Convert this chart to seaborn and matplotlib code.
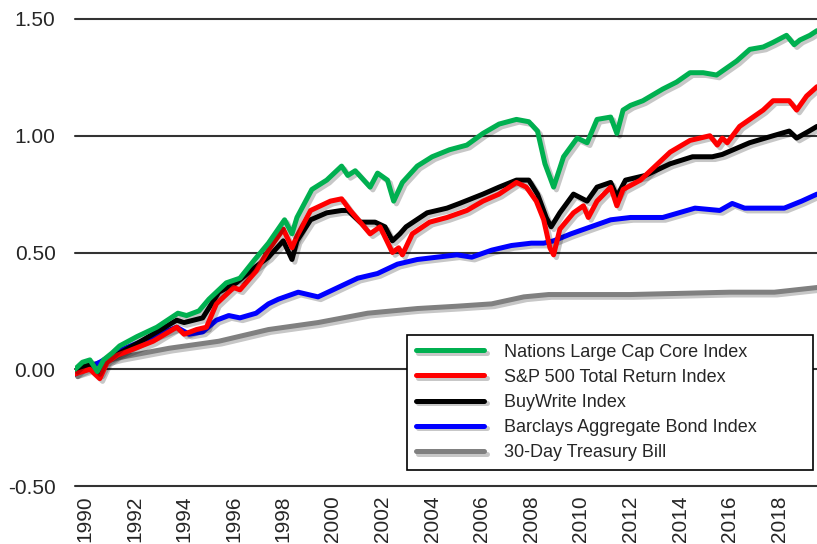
import matplotlib
matplotlib.use('Agg')
import matplotlib.pyplot as plt
import matplotlib.patheffects as pe
import seaborn as sns

# Series values (x = decimal year, y = cumulative return)
green_x = [1989.6, 1989.9, 1990.2, 1990.5, 1990.75, 1991.1, 1991.4, 1992.1, 1992.9, 1993.75,
           1994.1, 1994.6, 1995.0, 1995.7, 1996.25, 1996.85, 1997.4, 1998.05, 1998.35, 1998.55,
           1999.15, 1999.75, 2000.35, 2000.6, 2000.9, 2001.5, 2001.8, 2002.2, 2002.45, 2002.8,
           2003.4, 2004.0, 2004.7, 2005.4, 2006.05, 2006.7, 2007.4, 2007.9, 2008.25, 2008.55,
           2008.9, 2009.3, 2009.85, 2010.25, 2010.65, 2011.2, 2011.45, 2011.7, 2012.0, 2012.5,
           2013.3, 2013.86, 2014.4, 2014.93, 2015.47, 2015.74, 2016.28, 2016.81, 2017.35, 2017.75,
           2018.29, 2018.6, 2018.83, 2019.23, 2019.52]
green_y = [0.00, 0.03, 0.04, -0.01, 0.04, 0.07, 0.10, 0.14, 0.18, 0.24,
           0.23, 0.25, 0.30, 0.37, 0.39, 0.47, 0.54, 0.64, 0.58, 0.65,
           0.77, 0.81, 0.87, 0.83, 0.85, 0.78, 0.84, 0.81, 0.72, 0.80,
           0.87, 0.91, 0.94, 0.96, 1.01, 1.05, 1.07, 1.06, 1.02, 0.88,
           0.78, 0.91, 0.99, 0.97, 1.07, 1.08, 1.01, 1.11, 1.13, 1.15,
           1.20, 1.23, 1.27, 1.27, 1.26, 1.28, 1.32, 1.37, 1.38, 1.40,
           1.43, 1.39, 1.41, 1.43, 1.45]

red_x = [1989.6, 1989.9, 1990.2, 1990.6, 1990.9, 1991.3, 1991.8, 1992.75, 1993.7, 1994.0,
         1994.5, 1994.9, 1995.3, 1996.0, 1996.25, 1996.9, 1997.4, 1998.0, 1998.35, 1998.55,
         1999.1, 1999.9, 2000.35, 2000.7, 2001.1, 2001.5, 2001.9, 2002.4, 2002.65, 2002.8,
         2003.2, 2003.9, 2004.6, 2005.4, 2006.05, 2006.7, 2007.4, 2007.8, 2008.2, 2008.5,
         2008.75, 2008.9, 2009.15, 2009.7, 2010.1, 2010.3, 2010.65, 2011.2, 2011.45, 2011.7,
         2012.4, 2012.8, 2013.6, 2014.4, 2015.2, 2015.5, 2015.7, 2015.9, 2016.4, 2017.35,
         2017.75, 2018.4, 2018.7, 2019.1, 2019.52]
red_y = [-0.02, -0.01, 0.00, -0.04, 0.03, 0.06, 0.08, 0.12, 0.18, 0.15,
         0.17, 0.18, 0.28, 0.35, 0.34, 0.42, 0.51, 0.60, 0.52, 0.57,
         0.68, 0.72, 0.73, 0.68, 0.63, 0.58, 0.61, 0.50, 0.52, 0.49,
         0.58, 0.63, 0.65, 0.68, 0.72, 0.75, 0.80, 0.78, 0.72, 0.64,
         0.52, 0.49, 0.60, 0.67, 0.70, 0.65, 0.72, 0.78, 0.70, 0.77,
         0.81, 0.85, 0.93, 0.98, 1.00, 0.96, 0.99, 0.97, 1.04, 1.11,
         1.15, 1.15, 1.11, 1.17, 1.21]

black_x = [1989.6, 1989.9, 1990.2, 1990.6, 1990.9, 1992.1, 1993.7, 1994.0, 1994.75, 1995.4,
           1996.1, 1996.9, 1997.4, 1998.0, 1998.35, 1998.55, 1999.1, 1999.75, 2000.35, 2000.6,
           2001.1, 2001.7, 2002.1, 2002.4, 2002.7, 2002.95, 2003.8, 2004.6, 2005.1, 2006.05,
           2006.7, 2007.4, 2007.9, 2008.25, 2008.6, 2008.8, 2009.15, 2009.7, 2010.25, 2010.65,
           2011.2, 2011.45, 2011.8, 2012.6, 2013.6, 2014.5, 2015.3, 2015.7, 2016.8, 2017.75,
           2018.4, 2018.7, 2019.2, 2019.52]
black_y = [-0.02, 0.01, 0.02, -0.02, 0.04, 0.11, 0.21, 0.20, 0.22, 0.33,
           0.37, 0.44, 0.48, 0.55, 0.47, 0.55, 0.64, 0.67, 0.68, 0.68,
           0.63, 0.63, 0.61, 0.55, 0.58, 0.61, 0.67, 0.69, 0.71, 0.75,
           0.78, 0.81, 0.81, 0.75, 0.65, 0.61, 0.67, 0.75, 0.72, 0.78,
           0.80, 0.74, 0.81, 0.83, 0.88, 0.91, 0.91, 0.92, 0.97, 1.00,
           1.02, 0.99, 1.02, 1.04]

blue_x = [1989.6, 1990.2, 1990.6, 1991.4, 1992.75, 1993.7, 1994.2, 1994.75, 1995.3, 1995.8,
          1996.25, 1996.9, 1997.4, 1997.8, 1998.6, 1999.4, 2000.2, 2001.0, 2001.8, 2002.6,
          2003.4, 2004.2, 2005.0, 2005.6, 2006.4, 2007.2, 2008.0, 2008.5, 2008.9, 2009.6,
          2010.4, 2011.2, 2012.0, 2013.3, 2014.6, 2015.6, 2016.1, 2016.6, 2018.2, 2018.9,
          2019.52]
blue_y = [-0.02, 0.01, 0.03, 0.08, 0.14, 0.18, 0.15, 0.16, 0.21, 0.23,
          0.22, 0.24, 0.28, 0.30, 0.33, 0.31, 0.35, 0.39, 0.41, 0.45,
          0.47, 0.48, 0.49, 0.48, 0.51, 0.53, 0.54, 0.54, 0.55, 0.58,
          0.61, 0.64, 0.65, 0.65, 0.69, 0.68, 0.71, 0.69, 0.69, 0.72,
          0.75]

gray_x = [1989.6, 1991.4, 1993.4, 1995.4, 1997.4, 1999.4, 2001.4, 2003.4, 2005.0, 2006.4,
          2007.7, 2008.7, 2012.0, 2016.0, 2017.8, 2019.52]
gray_y = [0.00, 0.05, 0.09, 0.12, 0.17, 0.20, 0.24, 0.26, 0.27, 0.28,
          0.31, 0.32, 0.32, 0.33, 0.33, 0.35]

labels = ['Nations Large Cap Core Index', 'S&P 500 Total Return Index', 'BuyWrite Index',
          'Barclays Aggregate Bond Index', '30-Day Treasury Bill']
colors = ['#00B050', '#FF0000', '#000000', '#0000FF', '#808080']
year_ticks = list(range(1990, 2019, 2))
y_ticks = [-0.5, 0.0, 0.5, 1.0, 1.5]

sns.set_style('white')
plt.rcParams['font.family'] = ['Liberation Sans', 'DejaVu Sans']

fig = plt.figure(figsize=(8.17, 5.44), dpi=100)
ax = fig.add_axes([75 / 817, 58 / 544, 742 / 817, 467 / 544])

shadow = [pe.SimpleLineShadow(offset=(2, -2), shadow_color='black', alpha=0.22), pe.Normal()]

series = [(gray_x, gray_y), (blue_x, blue_y), (black_x, black_y), (red_x, red_y), (green_x, green_y)]
# draw back to front: treasury bill first, nations index on top
for i in range(4, -1, -1):
    xs, ys = series[4 - i]
    sns.lineplot(x=xs, y=ys, ax=ax, color=colors[i], linewidth=3.6, label=labels[i],
                 estimator=None, sort=False, path_effects=shadow, zorder=3 + (4 - i))

for t in y_ticks:
    ax.axhline(t, color='#333333', linewidth=1.5, clip_on=False, zorder=1)

ax.set_xlim(1989.6, 2019.52)
ax.set_ylim(-0.5, 1.5)
ax.set_yticks(y_ticks)
ax.set_yticklabels(['%.2f' % t for t in y_ticks], fontsize=15)
ax.set_xticks(year_ticks)
ax.set_xticklabels([str(y) for y in year_ticks], rotation=90, fontsize=15)
ax.tick_params(axis='y', length=0, pad=14)
ax.tick_params(axis='x', length=0, pad=7)
for s in ax.spines.values():
    s.set_visible(False)
ax.set_xlabel('')
ax.set_ylabel('')

handles, labs = ax.get_legend_handles_labels()
order = [labs.index(l) for l in labels]
leg = ax.legend([handles[k] for k in order], labels, loc='lower left',
                bbox_to_anchor=(0.447, 0.034, 0.548, 0.296), mode='expand', borderaxespad=0,
                fontsize=13, handlelength=3.8, handletextpad=1.1, labelspacing=0.45,
                borderpad=0.5, fancybox=False, framealpha=1, edgecolor='black')
leg.get_frame().set_linewidth(1.2)
leg.set_zorder(10)

fig.savefig('out.png', dpi=100)
